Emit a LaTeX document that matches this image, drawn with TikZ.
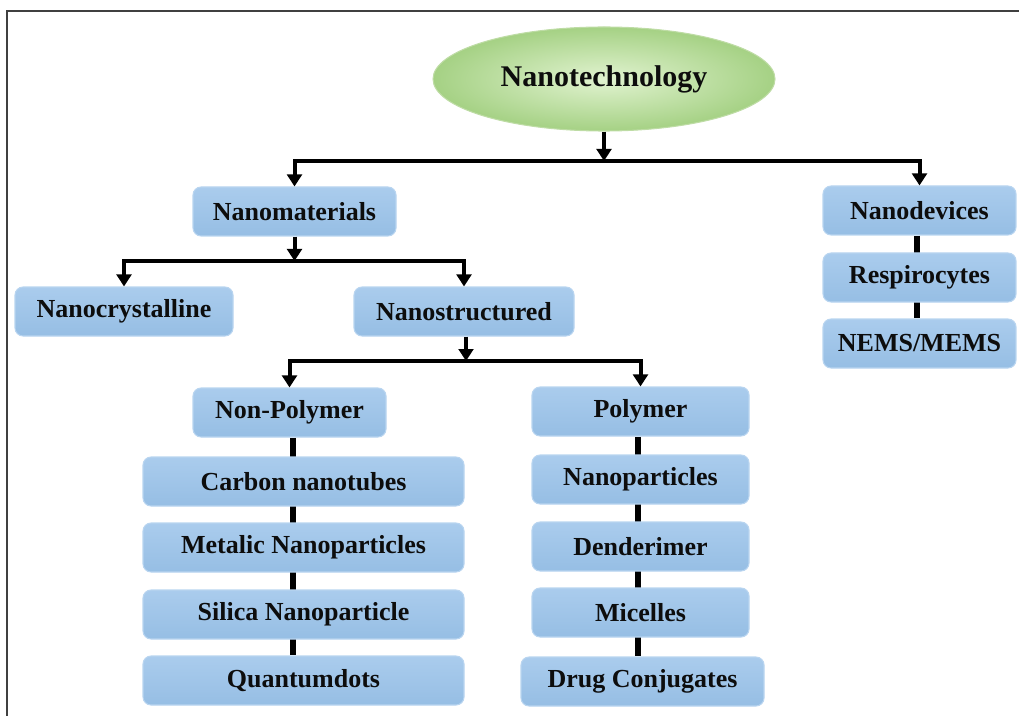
\documentclass[tikz,border=0pt]{standalone}
\usepackage{fontspec}
\setmainfont{Liberation Serif}
\usetikzlibrary{arrows.meta,backgrounds,calc,shapes.geometric}
\definecolor{boxtop}{RGB}{170,204,237}
\definecolor{boxbot}{RGB}{150,190,228}
\definecolor{boxedge}{RGB}{185,213,240}
\definecolor{elin}{RGB}{225,243,208}
\definecolor{elout}{RGB}{165,209,132}
\definecolor{eledge}{RGB}{190,220,165}
\newcommand\mybox[6]{\node[box, minimum width=#4*0.75pt, minimum height=#5*0.75pt] (#1) at (#2,#3) {#6};}
\begin{document}
\begin{tikzpicture}[x=0.75pt,y=-0.75pt,
  box/.style={rounded corners=6pt, top color=boxtop, bottom color=boxbot, draw=boxedge, line width=0.8pt,
    font=\fontsize{19.5}{21}\selectfont\bfseries, text=black!95, inner sep=0pt},
  topnode/.style={ellipse, inner color=elin, outer color=elout, draw=eledge, line width=0.8pt,
    font=\fontsize{22.5}{24}\selectfont\bfseries, text=black!95, inner sep=0pt},
  arr/.style={line width=3pt, -{Triangle[width=11pt,length=9pt]}},
  link/.style={line width=4.5pt},
  frame/.style={black!75, line width=1.5pt}]
\useasboundingbox (0,0) rectangle (1019,716);
\draw[frame] (7,716) -- (7,11) -- (1019,11);

\node[topnode, minimum width=342*0.75pt, minimum height=104*0.75pt] (nt) at (604,79) {Nanotechnology};

\mybox{nm}{294.5}{211.5}{203}{49}{Nanomaterials}
\mybox{nd}{919.5}{210.5}{193}{49}{Nanodevices}
\mybox{rs}{919.5}{277.5}{193}{49}{Respirocytes}
\mybox{ne}{919.5}{343.5}{193}{49}{NEMS/MEMS}
\mybox{nc}{124}{311.5}{218}{49}{Nanocrystalline}
\mybox{ns}{464}{311.5}{220}{49}{Nanostructured}
\mybox{np}{289.5}{412.5}{193}{49}{Non-Polymer}
\mybox{cn}{303.5}{481.5}{321}{49}{Carbon nanotubes}
\mybox{mn}{303.5}{547.5}{321}{49}{Metalic Nanoparticles}
\mybox{sn}{303.5}{614.5}{321}{49}{Silica Nanoparticle}
\mybox{qd}{303.5}{680.5}{321}{49}{Quantumdots}
\mybox{po}{640.5}{411.5}{217}{49}{Polymer}
\mybox{pp}{640.5}{479.5}{217}{49}{Nanoparticles}
\mybox{dd}{640.5}{546.5}{217}{49}{Denderimer}
\mybox{mc}{640.5}{612.5}{217}{49}{Micelles}
\mybox{dc}{642.5}{681.5}{243}{49}{Drug Conjugates}

\coordinate (j1) at (604,161);
\coordinate (j2) at (294.5,261);
\coordinate (j3) at (466,361);
\coordinate (lx1) at (293,0);
\coordinate (lx2) at (638,0);
\coordinate (lx3) at (917,0);

\draw[arr] (nt.south) -- (j1);
\draw[arr] (j1) -| (nm.north);
\draw[arr] (j1) -| (nd.north);
\draw[arr] (nm.south) -- (j2);
\draw[arr] (j2) -| (nc.north);
\draw[arr] (j2) -| (ns.north);
\draw[arr] (ns.south -| j3) -- (j3);
\draw[arr] (j3) -| (np.north);
\draw[arr] (j3) -| (po.north);

\begin{scope}[on background layer]
\draw[link] (np.south -| lx1) -- (qd.north -| lx1);
\draw[link] (po.south -| lx2) -- (dc.north -| lx2);
\draw[link] (nd.south -| lx3) -- (ne.north -| lx3);
\end{scope}
\end{tikzpicture}
\end{document}
